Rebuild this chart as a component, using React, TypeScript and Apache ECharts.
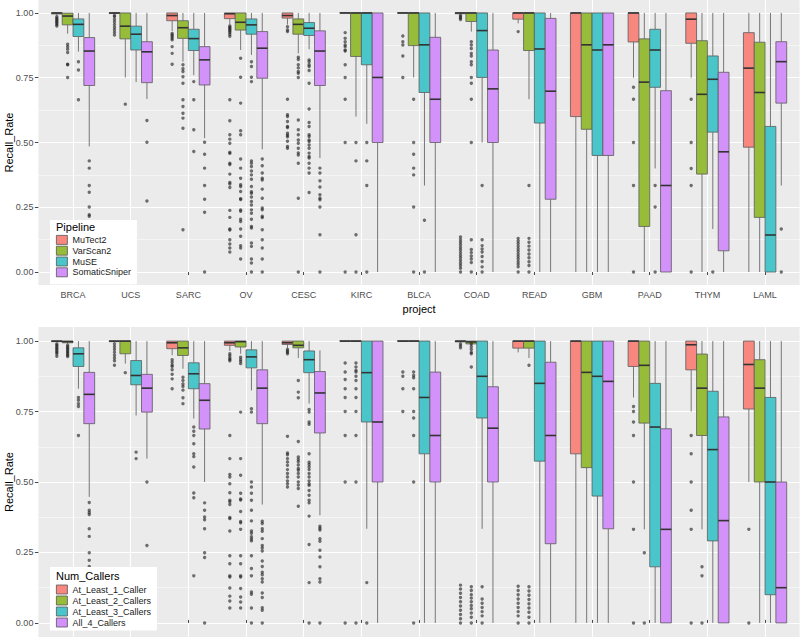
import React, { useEffect, useRef } from "react";
import * as echarts from "echarts";

const projects = ["BRCA", "UCS", "SARC", "OV", "CESC", "KIRC", "BLCA", "COAD", "READ", "GBM", "PAAD", "THYM", "LAML"];
const pipelineNames = ["MuTect2", "VarScan2", "MuSE", "SomaticSniper"];
const callerNames = ["At_Least_1_Caller", "At_Least_2_Callers", "At_Least_3_Callers", "All_4_Callers"];
const yTicks = [0, 0.25, 0.5, 0.75, 1];
const yMinorTicks = [0.125, 0.375, 0.625, 0.875];

// [lower whisker, Q1, median, Q3, upper whisker] per project
const mutect2Box = [
  [0.99, 0.996, 1, 1, 1], [0.995, 0.998, 1, 1, 1], [0.93, 0.97, 0.99, 1, 1], [0.955, 0.978, 0.997, 1, 1],
  [0.955, 0.98, 0.99, 1, 1], [1, 1, 1, 1, 1], [1, 1, 1, 1, 1], [0.995, 0.997, 1, 1, 1],
  [0.96, 0.976, 1, 1, 1], [0, 0.6, 1, 1, 1], [0.75, 0.888, 1, 1, 1], [0.75, 0.883, 0.976, 1, 1],
  [0, 0.482, 0.787, 0.924, 1],
];
const varscan2Box = [
  [0.92, 0.954, 0.988, 0.999, 1], [0.751, 0.9, 0.949, 1, 1], [0.812, 0.902, 0.943, 0.97, 1], [0.857, 0.934, 0.964, 1, 1],
  [0.844, 0.918, 0.956, 0.977, 1], [0.6, 0.832, 1, 1, 1], [0.751, 0.874, 1, 1, 1], [0.928, 0.967, 1, 1, 1],
  [0.667, 0.855, 1, 1, 1], [0, 0.551, 0.877, 1, 1], [0, 0.176, 0.733, 0.9, 1], [0, 0.378, 0.686, 0.893, 1],
  [0, 0.211, 0.693, 0.887, 1],
];
const museBox = [
  [0.851, 0.909, 0.956, 0.977, 1], [0.733, 0.857, 0.918, 0.949, 1], [0.76, 0.855, 0.901, 0.937, 1], [0.838, 0.918, 0.954, 0.977, 1],
  [0.86, 0.913, 0.941, 0.963, 1], [0.572, 0.8, 1, 1, 1], [0.334, 0.693, 0.877, 1, 1], [0.5, 0.751, 0.932, 1, 1],
  [0, 0.575, 0.861, 1, 1], [0, 0.45, 0.857, 1, 1], [0.4, 0.713, 0.857, 0.937, 1], [0.166, 0.54, 0.744, 0.834, 1],
  [0, 0, 0.143, 0.562, 1],
];
const sniperBox = [
  [0.485, 0.72, 0.853, 0.905, 1], [0.668, 0.731, 0.85, 0.889, 1], [0.517, 0.722, 0.819, 0.87, 1], [0.474, 0.748, 0.864, 0.928, 1],
  [0.44, 0.72, 0.853, 0.931, 1], [0, 0.5, 0.751, 1, 1], [0, 0.5, 0.667, 0.906, 1], [0, 0.5, 0.707, 0.857, 1],
  [0, 0.281, 0.698, 0.979, 1], [0, 0.45, 0.877, 1, 1], [0, 0, 0.334, 0.7, 1], [0, 0.082, 0.464, 0.771, 1],
  [0.334, 0.652, 0.812, 0.889, 1],
];

// outliers per project
const mutect2Out = [
  [0.985, 0.98, 0.975, 0.97, 0.965, 0.96, 0.955, 0.95],
  [0.99, 0.985, 0.975, 0.965, 0.955, 0.945, 0.935, 0.925, 0.915],
  [0.921, 0.915, 0.909, 0.902, 0.896, 0.87, 0.844, 0.802],
  [0.95, 0.945, 0.94, 0.935, 0.93, 0.925, 0.918, 0.91, 0.665, 0.584, 0.53, 0.513, 0.497, 0.462, 0.458, 0.42, 0.415, 0.378, 0.346, 0.34, 0.326, 0.238, 0.211, 0.166, 0.162, 0.125, 0.108, 0.093, 0.077],
  [0.947, 0.934, 0.928, 0.667, 0.607, 0.6, 0.581, 0.562, 0.558, 0.536, 0.528, 0.522, 0.505, 0.485, 0.478],
  [0.924, 0.902, 0.889, 0.876, 0.87, 0.857, 0.853, 0.8, 0.751, 0.667, 0.5, 0],
  [0.911, 0.889, 0.876, 0.834, 0.751],
  [0.99, 0.985, 0.98, 0.975, 0.135, 0.125, 0.115, 0.105, 0.095, 0.085, 0.075, 0.065, 0.055, 0.045, 0.035, 0.025, 0.015, 0],
  [0.928, 0.13, 0.12, 0.11, 0.1, 0.09, 0.08, 0.07, 0.06, 0.05, 0.04, 0.03, 0.02, 0],
  [],
  [0.713, 0.667, 0.5, 0.334, 0],
  [0.667, 0.5, 0.4, 0.334, 0],
  [],
];
const varscan2Out = [
  [0.879, 0.87, 0.86, 0.847, 0.802, 0.8, 0.751],
  [0.648],
  [0.8, 0.785, 0.774, 0.754, 0.729, 0.665, 0.639, 0.613, 0.594, 0.555, 0.163],
  [0.825, 0.752, 0.652, 0.545, 0.53, 0.436, 0.401, 0.362, 0.337, 0.33, 0.311, 0.283, 0.28, 0.24, 0.235, 0.204, 0.195, 0.166, 0.138, 0.102, 0.093, 0.05],
  [0.829, 0.82, 0.8, 0.788, 0.774, 0.767, 0.751, 0.587, 0.549, 0.53, 0.51, 0.497, 0.478, 0.46, 0.452, 0.42, 0.285, 0],
  [0.5, 0.429, 0.144, 0],
  [0.667, 0.5, 0.455, 0.401, 0.375, 0.251, 0],
  [0.889, 0.876, 0.863, 0.844, 0.834, 0.812, 0.8, 0.751, 0.729, 0.667, 0.5, 0.125, 0.087, 0.075, 0.062, 0.05, 0.037, 0],
  [0.334, 0.13, 0.115, 0.1, 0.085, 0.07, 0.055, 0.04, 0.025, 0],
  [], [], [], [],
];
const museOut = [
  [0.812, 0.78, 0.665],
  [],
  [0.735, 0.665, 0.549, 0.465],
  [0.812, 0.793, 0.752, 0.735, 0.429, 0.42, 0.407, 0.39, 0.375, 0.358, 0.33, 0.31, 0.304, 0.29, 0.272, 0.259, 0.24, 0.227, 0.204, 0.176, 0.17, 0.112, 0.099, 0.05, 0.035, 0],
  [0.819, 0.812, 0.8, 0.793, 0.778, 0.729, 0.629, 0.577, 0.562, 0.53, 0.523, 0.51, 0.504, 0.49, 0.478, 0.459, 0.446, 0.44, 0.42, 0.401, 0.382, 0.307],
  [0.5, 0.429, 0.334, 0],
  [0.2, 0],
  [0.334, 0.125, 0.102, 0.089, 0.077, 0.06, 0.041, 0.02, 0],
  [], [], [0.334, 0.251, 0], [0], [],
];
const sniperOut = [
  [0.429, 0.401, 0.334, 0.308, 0.251, 0.221, 0.215],
  [0.585, 0.501, 0.274],
  [0.501, 0.455, 0.401, 0.334, 0.281, 0.231, 0],
  [0.436, 0.41, 0.382, 0.362, 0.355, 0.32, 0.285, 0.247, 0.24, 0.215, 0.21, 0.163, 0.125, 0.093, 0.05, 0],
  [0.401, 0.382, 0.352, 0.328, 0.298, 0.285, 0.279, 0.251, 0.144, 0],
  [], [], [], [], [], [], [],
  [0.166, 0],
];

const least1Box = [
  [0.995, 0.998, 1, 1, 1], [0.995, 0.998, 1, 1, 1], [0.95, 0.973, 0.994, 1, 1], [0.965, 0.985, 0.994, 1, 1],
  [0.975, 0.988, 0.994, 1, 1], [1, 1, 1, 1, 1], [1, 1, 1, 1, 1], [0.995, 0.997, 1, 1, 1],
  [0.96, 0.975, 1, 1, 1], [0, 0.6, 1, 1, 1], [0.8, 0.91, 1, 1, 1], [0.75, 0.898, 0.987, 1, 1],
  [0.5, 0.759, 0.917, 1, 1],
];
const least2Box = [
  [0.99, 0.994, 0.998, 1, 1], [0.92, 0.955, 1, 1, 1], [0.902, 0.949, 0.976, 1, 1], [0.955, 0.979, 0.998, 1, 1],
  [0.94, 0.976, 0.985, 1, 1], [1, 1, 1, 1, 1], [1, 1, 1, 1, 1], [0.985, 0.99, 0.997, 1, 1],
  [0.94, 0.975, 1, 1, 1], [0, 0.551, 0.889, 1, 1], [0.332, 0.709, 0.914, 1, 1], [0.332, 0.665, 0.833, 0.954, 1],
  [0, 0.5, 0.833, 0.934, 1],
];
const least3Box = [
  [0.831, 0.91, 0.955, 0.976, 1], [0.736, 0.845, 0.878, 0.931, 1], [0.725, 0.831, 0.884, 0.923, 1], [0.825, 0.905, 0.944, 0.969, 1],
  [0.778, 0.888, 0.934, 0.965, 1], [0.334, 0.713, 0.888, 1, 1], [0, 0.6, 0.8, 1, 1], [0.334, 0.727, 0.875, 1, 1],
  [0, 0.574, 0.85, 1, 1], [0, 0.45, 0.875, 1, 1], [0, 0.199, 0.695, 0.85, 1], [0, 0.291, 0.615, 0.822, 1],
  [0, 0.1, 0.5, 0.8, 1],
];
const all4Box = [
  [0.447, 0.707, 0.811, 0.889, 1], [0.583, 0.748, 0.833, 0.882, 1], [0.5, 0.688, 0.79, 0.849, 1], [0.42, 0.707, 0.833, 0.898, 1],
  [0.382, 0.674, 0.816, 0.892, 0.967], [0, 0.5, 0.713, 1, 1], [0, 0.5, 0.665, 0.89, 1], [0, 0.5, 0.691, 0.838, 1],
  [0, 0.281, 0.665, 0.925, 1], [0, 0.334, 0.857, 1, 1], [0, 0, 0.332, 0.689, 1], [0, 0, 0.363, 0.731, 1],
  [0, 0, 0.125, 0.5, 1],
];

const least1Out = [
  [0.99, 0.985, 0.98, 0.975, 0.97, 0.965, 0.96, 0.955, 0.946],
  [0.99, 0.98, 0.97, 0.96, 0.95, 0.94, 0.93, 0.914],
  [0.934, 0.925, 0.915, 0.91, 0.898, 0.882, 0.866, 0.831],
  [0.955, 0.948, 0.94, 0.935, 0.93, 0.665, 0.583, 0.527, 0.518, 0.494, 0.462, 0.435, 0.43, 0.42, 0.374, 0.37, 0.326, 0.238, 0.21, 0.167, 0.163, 0.124, 0.095, 0.078, 0.053],
  [0.97, 0.965, 0.96, 0.955, 0.662, 0.603, 0.597, 0.583, 0.571, 0.559, 0.544, 0.53, 0.518, 0.504, 0.494, 0.482],
  [0.922, 0.89, 0.864, 0.831, 0.8, 0.75, 0.665, 0.5, 0],
  [0.89, 0.875, 0.831, 0.75],
  [0.99, 0.983, 0.976, 0.134, 0.12, 0.105, 0.09, 0.075, 0.06, 0.045, 0.03, 0.015, 0],
  [0.13, 0.115, 0.1, 0.085, 0.07, 0.055, 0.04, 0.025, 0],
  [],
  [0.768, 0.75, 0.713, 0.665, 0.5, 0.332, 0],
  [0.665, 0.6, 0.5, 0.4, 0.332, 0],
  [0.332, 0],
];
const least2Out = [
  [0.985, 0.98, 0.975, 0.97, 0.965, 0.96, 0.955, 0.95, 0.945],
  [0.888],
  [0.872, 0.86, 0.848, 0.839, 0.826, 0.799, 0.778],
  [0.943, 0.935, 0.928, 0.92, 0.748, 0.583, 0.524, 0.46, 0.44, 0.436, 0.395, 0.36, 0.355, 0.332, 0.238, 0.21, 0.167, 0.163, 0.122, 0.092, 0.074, 0.053],
  [0.86, 0.819, 0.799, 0.644, 0.589, 0.58, 0.572, 0.56, 0.548, 0.542, 0.53, 0.518, 0.5, 0.489, 0.477, 0.414],
  [0.922, 0.908, 0.896, 0.89, 0.875, 0.86, 0.831, 0.8, 0.75, 0.665, 0.5, 0],
  [0.89, 0.878, 0.87, 0.831, 0.75, 0.727, 0.665, 0.5, 0],
  [0.99, 0.98, 0.97, 0.96, 0.955, 0.908, 0.128, 0.115, 0.1, 0.088, 0.075, 0.062, 0.05, 0.035, 0.02, 0],
  [0.914, 0.128, 0.113, 0.098, 0.083, 0.068, 0.053, 0.038, 0.02, 0],
  [],
  [0.249, 0],
  [0.199, 0.167, 0],
  [],
];
const least3Out = [
  [0.8, 0.79, 0.778, 0.768, 0.665],
  [0.606, 0.583],
  [0.695, 0.68, 0.665, 0.636, 0.6, 0.59, 0.553, 0.461, 0.444, 0.167],
  [0.76, 0.748, 0.5, 0.482, 0.46, 0.435, 0.4, 0.362, 0.326, 0.318, 0.306, 0.298, 0.291, 0.238, 0.193, 0.167, 0.11, 0.102, 0.053, 0],
  [0.757, 0.748, 0.713, 0.705, 0.6, 0.57, 0.562, 0.553, 0.544, 0.53, 0.518, 0.504, 0.494, 0.488, 0.47, 0.453, 0.435, 0.426, 0.379, 0.278, 0.143, 0],
  [0.143, 0],
  [],
  [0.128, 0.085, 0.07, 0.055, 0.04, 0.025, 0],
  [], [], [], [], [],
];
const all4Out = [
  [0.427, 0.4, 0.392, 0.385, 0.334, 0.307, 0.249, 0.222, 0.2, 0.175, 0.157, 0.128],
  [0.5, 0.275],
  [0.426, 0.4, 0.376, 0.366, 0.334, 0.249, 0.232, 0],
  [0.361, 0.353, 0.334, 0.325, 0.299, 0.275, 0.266, 0.255, 0.22, 0.2, 0.18, 0.171, 0.157, 0.145, 0.106, 0.09, 0.054, 0.045, 0],
  [0.343, 0.336, 0.33, 0.299, 0.29, 0.258, 0.234, 0.199, 0.157, 0.145, 0],
  [], [], [], [], [], [], [], [],
];

const fills = ["#F8877F", "#96BC3A", "#4AC6CA", "#D292FA"];
const FONT = "'Liberation Sans', Arial, Helvetica, sans-serif";
const DODGE = 0.75;

function boxSeries(name: string, boxes: number[][], k: number, xIndex: number, yIndex: number) {
  return {
    type: "custom",
    name,
    xAxisIndex: xIndex,
    yAxisIndex: yIndex,
    itemStyle: { color: fills[k] },
    encode: { x: 0, y: [1, 2, 3, 4, 5] },
    data: boxes.map((b, i) => [i, ...b]),
    renderItem: (_p: any, api: any) => {
      const i = api.value(0);
      const w = (api.size([1, 0])[0] * DODGE) / 4;
      const cx = api.coord([i, 0])[0] + (k - 1.5) * w;
      const [lo, q1, med, q3, hi] = [1, 2, 3, 4, 5].map((d) => api.coord([i, api.value(d)])[1]);
      const whisker = { stroke: "#6a6a6a", lineWidth: 0.9 };
      return {
        type: "group",
        children: [
          { type: "line", shape: { x1: cx, y1: hi, x2: cx, y2: q3 }, style: whisker },
          { type: "line", shape: { x1: cx, y1: q1, x2: cx, y2: lo }, style: whisker },
          {
            type: "rect",
            shape: { x: cx - w / 2, y: q3, width: w, height: q1 - q3 },
            style: { fill: fills[k], stroke: "#5a5a5a", lineWidth: 0.8 },
          },
          {
            type: "line",
            shape: { x1: cx - w / 2, y1: med, x2: cx + w / 2, y2: med },
            style: { stroke: "#333333", lineWidth: 1.6 },
          },
        ],
      };
    },
  };
}

function outlierSeries(name: string, outs: number[][], k: number, xIndex: number, yIndex: number) {
  const data: number[][] = [];
  outs.forEach((vals, i) => vals.forEach((v) => data.push([i, v])));
  return {
    type: "custom",
    name,
    xAxisIndex: xIndex,
    yAxisIndex: yIndex,
    itemStyle: { color: fills[k] },
    encode: { x: 0, y: 1 },
    data,
    renderItem: (_p: any, api: any) => {
      const i = api.value(0);
      const w = (api.size([1, 0])[0] * DODGE) / 4;
      const p = api.coord([i, api.value(1)]);
      return {
        type: "circle",
        shape: { cx: p[0] + (k - 1.5) * w, cy: p[1], r: 1.7 },
        style: { fill: "rgba(30,30,30,0.62)" },
      };
    },
  };
}

export default function App() {
  const chartRef = useRef<HTMLDivElement>(null);

  useEffect(() => {
    document.body.style.margin = "0";
    const chart = echarts.init(chartRef.current!, null, { renderer: "svg" });

    const panels = [
      { top: 0, height: 285, names: pipelineNames, boxes: [mutect2Box, varscan2Box, museBox, sniperBox], outs: [mutect2Out, varscan2Out, museOut, sniperOut] },
      { top: 327, height: 310, names: callerNames, boxes: [least1Box, least2Box, least3Box, all4Box], outs: [least1Out, least2Out, least3Out, all4Out] },
    ];

    const grid: any[] = [];
    const xAxis: any[] = [];
    const yAxis: any[] = [];
    const series: any[] = [];

    panels.forEach((p, pi) => {
      // background grid (index 2*pi), data grid (index 2*pi+1)
      grid.push({ left: 38.4, top: p.top, width: 761.2, height: p.height, show: true, backgroundColor: "#EBEBEB", borderWidth: 0, outerBoundsMode: "none" });
      grid.push({ left: 44.2, top: p.top, width: 749.7, height: p.height, outerBoundsMode: "none" });
      xAxis.push({ gridIndex: 2 * pi, type: "value", min: 0, max: 1, show: false });
      xAxis.push({
        gridIndex: 2 * pi + 1,
        type: "category",
        data: projects,
        position: pi === 0 ? "bottom" : "top",
        axisLine: { show: false },
        axisTick: { show: true, alignWithLabel: true, interval: 0, length: 3, lineStyle: { color: "#333333", width: 0.9 } },
        axisLabel: { show: pi === 0, interval: 0, fontSize: 9, color: "#4D4D4D", margin: 5, fontFamily: FONT },
        splitLine: { show: true, alignWithLabel: true, interval: 0, lineStyle: { color: "#FFFFFF", width: 1.1 } },
        name: pi === 0 ? "project" : "",
        nameLocation: "middle",
        nameGap: 18,
        nameMoveOverlap: false,
        nameTextStyle: { fontSize: 11, color: "#000", fontFamily: FONT },
      });
      // y axes: major (3*pi), minor (3*pi+1), data (3*pi+2)
      yAxis.push({
        gridIndex: 2 * pi,
        type: "value",
        min: -0.05,
        max: 1.05,
        position: "left",
        axisLine: { show: false },
        axisTick: { show: true, customValues: yTicks, length: 3.5, lineStyle: { color: "#333333", width: 0.9 } },
        axisLabel: { customValues: yTicks, formatter: (v: number) => v.toFixed(2), fontSize: 9, color: "#4D4D4D", margin: 5, fontFamily: FONT },
        splitLine: { show: true, lineStyle: { color: "#FFFFFF", width: 1.1 } },
        name: "Recall_Rate",
        nameLocation: "middle",
        nameGap: 24,
        nameMoveOverlap: false,
        nameTextStyle: { fontSize: 11, color: "#000", fontFamily: FONT },
      });
      yAxis.push({
        gridIndex: 2 * pi,
        type: "value",
        min: -0.05,
        max: 1.05,
        position: "left",
        axisLine: { show: false },
        axisTick: { show: false, customValues: yMinorTicks },
        axisLabel: { show: false, customValues: yMinorTicks },
        splitLine: { show: true, lineStyle: { color: "#FFFFFF", width: 0.5 } },
      });
      yAxis.push({ gridIndex: 2 * pi + 1, type: "value", min: -0.05, max: 1.05, show: false });

      p.names.forEach((n, k) => series.push(boxSeries(n, p.boxes[k], k, 2 * pi + 1, 3 * pi + 2)));
      p.names.forEach((n, k) => series.push(outlierSeries(n, p.outs[k], k, 2 * pi + 1, 3 * pi + 2)));
    });

    const legendBase = {
      orient: "vertical",
      left: 50,
      itemGap: 0,
      itemWidth: 11,
      itemHeight: 9,
      icon: "rect",
      backgroundColor: "#FFFFFF",
      selectedMode: false,
      itemStyle: { borderColor: "#555555", borderWidth: 0.8 },
      textStyle: { fontSize: 9, color: "#1A1A1A", lineHeight: 10.8, fontFamily: FONT },
    };

    chart.setOption({
      animation: false,
      textStyle: { fontFamily: FONT },
      title: [
        { text: "Pipeline", left: 56, top: 221, padding: 0, textStyle: { fontSize: 11, fontWeight: "normal", color: "#000", fontFamily: FONT } },
        { text: "Num_Callers", left: 56, top: 570, padding: 0, textStyle: { fontSize: 11, fontWeight: "normal", color: "#000", fontFamily: FONT } },
      ],
      legend: [
        { ...legendBase, data: pipelineNames, top: 220, padding: [14.5, 6, 6.5, 6] },
        { ...legendBase, data: callerNames, top: 567, padding: [17, 6, 2.5, 6], textStyle: { ...legendBase.textStyle, lineHeight: 11 } },
      ],
      grid,
      xAxis,
      yAxis,
      series,
    });

    return () => {
      chart.dispose();
    };
  }, []);

  return <div ref={chartRef} style={{ width: 800, height: 637 }} />;
}
